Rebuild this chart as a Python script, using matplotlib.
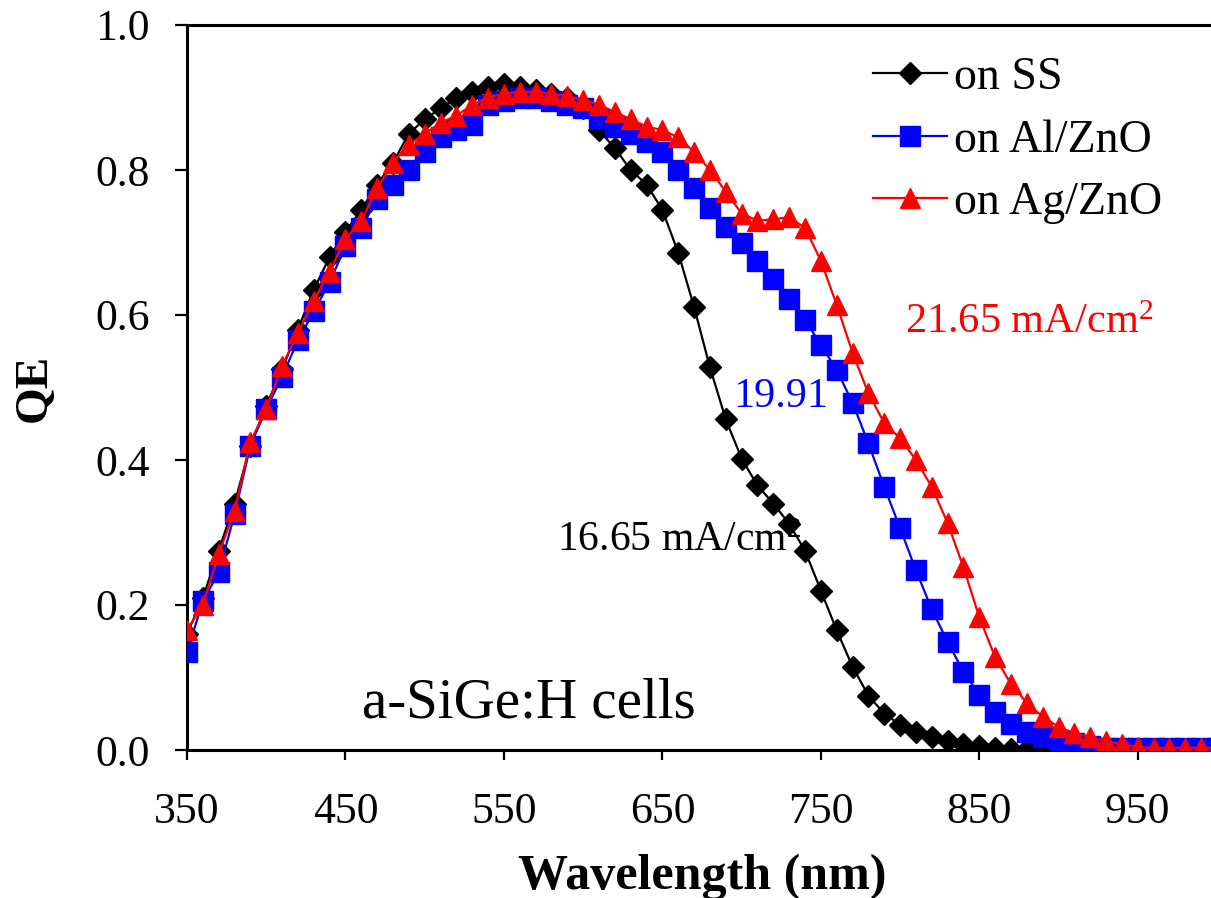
import matplotlib
matplotlib.use("Agg")
import matplotlib.pyplot as plt
import numpy as np

plt.rcParams['font.family'] = ['Liberation Serif', 'DejaVu Serif']
plt.rcParams['mathtext.fontset'] = 'custom'
plt.rcParams['mathtext.rm'] = 'Liberation Serif'
plt.rcParams['mathtext.it'] = 'Liberation Serif:italic'
plt.rcParams['mathtext.bf'] = 'Liberation Serif:bold'

wavelength = list(range(350, 1001, 10))

qe_ss = [0.160, 0.210, 0.275, 0.340, 0.420, 0.475, 0.525, 0.580, 0.635, 0.680,
         0.715, 0.745, 0.780, 0.810, 0.850, 0.870, 0.885, 0.900, 0.908, 0.915,
         0.918, 0.915, 0.910, 0.905, 0.900, 0.885, 0.855, 0.830, 0.800, 0.780,
         0.745, 0.686, 0.611, 0.528, 0.456, 0.402, 0.365, 0.340, 0.312, 0.275,
         0.220, 0.165, 0.115, 0.075, 0.050, 0.035, 0.025, 0.018, 0.012, 0.008,
         0.005, 0.003, 0.002, 0.002, 0.002, 0.002, 0.002, 0.002, 0.002, 0.002,
         0.002, 0.002, 0.002, 0.002, 0.002, 0.002]

qe_al = [0.135, 0.205, 0.245, 0.325, 0.420, 0.470, 0.515, 0.565, 0.605, 0.645,
         0.695, 0.720, 0.760, 0.780, 0.800, 0.825, 0.845, 0.855, 0.862, 0.890,
         0.895, 0.900, 0.900, 0.895, 0.890, 0.885, 0.870, 0.860, 0.850, 0.838,
         0.825, 0.800, 0.775, 0.748, 0.722, 0.700, 0.675, 0.650, 0.622, 0.593,
         0.559, 0.524, 0.479, 0.423, 0.363, 0.306, 0.248, 0.194, 0.149, 0.108,
         0.076, 0.052, 0.036, 0.025, 0.018, 0.014, 0.009, 0.006, 0.003, 0.003,
         0.003, 0.003, 0.003, 0.003, 0.003, 0.003]

qe_ag = [0.165, 0.200, 0.270, 0.330, 0.425, 0.470, 0.530, 0.575, 0.620, 0.660,
         0.705, 0.730, 0.775, 0.810, 0.835, 0.850, 0.865, 0.875, 0.890, 0.900,
         0.905, 0.908, 0.908, 0.905, 0.902, 0.897, 0.890, 0.880, 0.870, 0.860,
         0.855, 0.845, 0.825, 0.800, 0.770, 0.740, 0.730, 0.732, 0.735, 0.720,
         0.675, 0.614, 0.548, 0.492, 0.451, 0.430, 0.400, 0.363, 0.313, 0.252,
         0.183, 0.128, 0.091, 0.065, 0.046, 0.032, 0.023, 0.018, 0.012, 0.008,
         0.004, 0.003, 0.003, 0.003, 0.003, 0.003]

series_labels = ['on SS', 'on Al/ZnO', 'on Ag/ZnO']
x_ticks = [350, 450, 550, 650, 750, 850, 950]
y_ticks = [0.0, 0.2, 0.4, 0.6, 0.8, 1.0]

W, H = 1211, 898
fig = plt.figure(figsize=(W / 100, H / 100), dpi=100)
ax = fig.add_axes([187 / W, 1 - 750 / H, (1217 - 187) / W, (750 - 25) / H])

ax.plot(wavelength, qe_ss, color='black', lw=1.6, marker='D', ms=11,
        mfc='black', mec='black', label=series_labels[0], zorder=3)
ax.plot(wavelength, qe_al, color='#0000FF', lw=1.6, marker='s', ms=14,
        mfc='#0000FF', mec='#0000FF', label=series_labels[1], zorder=4)
ax.plot(wavelength, qe_ag, color='#FF0000', lw=1.6, marker='^', ms=14,
        mfc='#FF0000', mec='#FF0000', label=series_labels[2], zorder=5)

ax.set_xlim(350, 1000)
ax.set_ylim(0, 1.0)
ax.set_xticks(x_ticks)
ax.set_yticks(y_ticks)
ax.set_yticklabels([f'{v:.1f}' for v in y_ticks])
ax.tick_params(axis='y', direction='out', length=9, width=1.6, labelsize=31.5, pad=18)
ax.tick_params(axis='x', direction='out', length=7, width=1.6, labelsize=31.5, pad=23)
for s in ['left', 'bottom', 'top']:
    ax.spines[s].set_linewidth(2.2)
ax.spines['right'].set_visible(False)

ax.set_xlabel('Wavelength (nm)', fontsize=36, fontweight='bold', labelpad=16)
ax.set_ylabel('QE', fontsize=34, fontweight='bold', labelpad=28)

leg = ax.legend(loc='upper left', bbox_to_anchor=(0.6485, 0.982), frameon=False,
                fontsize=33, handlelength=1.6, handletextpad=0.17,
                labelspacing=0.44, borderaxespad=0)

ax.text(583.5, 0.274, '16.65 mA/cm$^2$', fontsize=30, color='black', ha='left', va='baseline')
ax.text(694.6, 0.473, '19.91', fontsize=30.5, color='#0000FF', ha='left', va='baseline')
ax.text(803, 0.575, '21.65 mA/cm$^2$', fontsize=30.5, color='#FF0000', ha='left', va='baseline')
ax.text(460.4, 0.0455, 'a-SiGe:H cells', fontsize=41, color='black', ha='left', va='baseline')

fig.savefig('out.png', dpi=100)
